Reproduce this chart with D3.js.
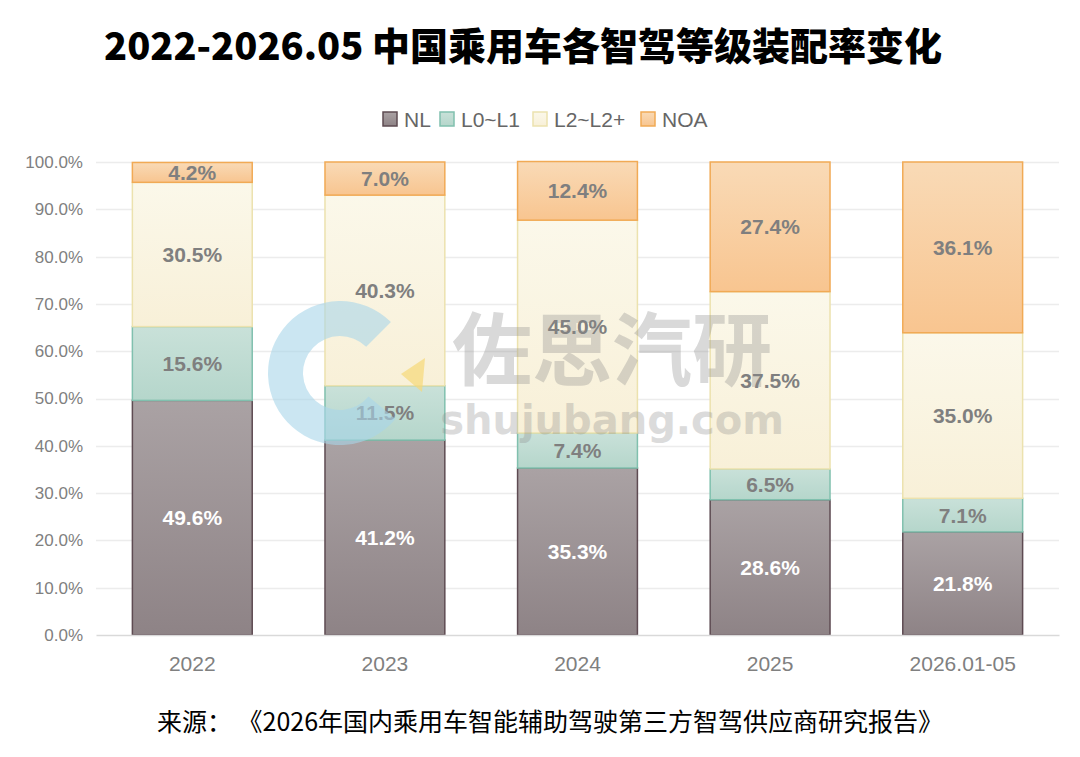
<!DOCTYPE html>
<html>
<head>
<meta charset="utf-8">
<script src="https://cdn.jsdelivr.net/npm/d3@7"></script>
<style>
  body { margin: 0; background: #fff; }
  svg { display: block; }
</style>
</head>
<body>
<script>
// data
let categories = ["2022", "2023", "2024", "2025", "2026.01-05"];
let seriesNames = ["NL", "L0~L1", "L2~L2+", "NOA"];
let nlValues  = [49.6, 41.2, 35.3, 28.6, 21.8];
let l0Values  = [15.6, 11.5, 7.4, 6.5, 7.1];
let l2Values  = [30.5, 40.3, 45.0, 37.5, 35.0];
let noaValues = [4.2, 7.0, 12.4, 27.4, 36.1];
let yTicks = [0, 10, 20, 30, 40, 50, 60, 70, 80, 90, 100];

let W = 1080, H = 757;
let margin = {left: 96, right: 21, top: 162, bottom: 122};

let colors = {
  "NL":     {top: "#aaa2a4", bottom: "#8e8386", stroke: "#5e4b52", text: "#ffffff"},
  "L0~L1":  {top: "#c9e1d9", bottom: "#b5d6cb", stroke: "#80c0ae", text: "#7f7f7f"},
  "L2~L2+": {top: "#fbf8ea", bottom: "#f8f0d8", stroke: "#ece2ae", text: "#7f7f7f"},
  "NOA":    {top: "#f9dab6", bottom: "#f8c590", stroke: "#f1aa55", text: "#7f7f7f"}
};

// table for d3.stack
let table = categories.map((c, i) => ({
  cat: c,
  "NL": nlValues[i],
  "L0~L1": l0Values[i],
  "L2~L2+": l2Values[i],
  "NOA": noaValues[i]
}));

let stacked = d3.stack().keys(seriesNames)(table);

let svg = d3.select("body").append("svg")
  .attr("width", W)
  .attr("height", H);

let defs = svg.append("defs");
seriesNames.forEach((s, i) => {
  let g = defs.append("linearGradient")
    .attr("id", "grad" + i)
    .attr("x1", 0).attr("y1", 0).attr("x2", 0).attr("y2", 1);
  g.append("stop").attr("offset", "0%").attr("stop-color", colors[s].top);
  g.append("stop").attr("offset", "100%").attr("stop-color", colors[s].bottom);
});

let x = d3.scaleBand()
  .domain(categories)
  .range([margin.left, W - margin.right])
  .paddingInner(0.37)
  .paddingOuter(0.185);

let y = d3.scaleLinear()
  .domain([0, 100])
  .range([H - margin.bottom, margin.top]);

// title
svg.append("text")
  .attr("x", 523)
  .attr("y", 60)
  .attr("text-anchor", "middle")
  .style("font-family", "'Noto Sans CJK SC', sans-serif")
  .style("font-weight", 900)
  .style("font-size", "38px")
  .attr("fill", "#000")
  .text("2022-2026.05 中国乘用车各智驾等级装配率变化");

// gridlines
svg.append("g")
  .selectAll("line")
  .data(yTicks.filter(t => t > 0))
  .enter()
  .append("line")
    .attr("x1", margin.left)
    .attr("x2", W - margin.right)
    .attr("y1", d => Math.round(y(d)) + 0.5)
    .attr("y2", d => Math.round(y(d)) + 0.5)
    .attr("stroke", "#ececec")
    .attr("stroke-width", 1.5);

// y axis labels
let yAxis = d3.axisLeft(y)
  .tickValues(yTicks)
  .tickSize(0)
  .tickPadding(13)
  .tickFormat(d => d.toFixed(1) + "%");

let yg = svg.append("g")
  .attr("transform", "translate(" + margin.left + ",0)")
  .call(yAxis);
yg.select(".domain").remove();
yg.selectAll("text")
  .style("font-family", "Arial, 'Liberation Sans', sans-serif")
  .style("font-size", "17px")
  .attr("fill", "#808080");

// watermark logo behind the bars
let wm = svg.append("g").attr("class", "watermark");
let arc = d3.arc()
  .innerRadius(37)
  .outerRadius(72)
  .startAngle(Math.PI * 0.72)
  .endAngle(Math.PI * 2.25);
wm.append("path")
  .attr("d", arc())
  .attr("transform", "translate(340,373)")
  .attr("fill", "#a9d6ea")
  .attr("opacity", 0.6);
wm.append("path")
  .attr("d", "M401,374 L425,358 L422,392 Z")
  .attr("fill", "#f7d978")
  .attr("opacity", 0.7);

// bars
let layers = svg.append("g")
  .selectAll(".layer")
  .data(stacked)
  .enter()
  .append("g")
    .attr("class", "layer");

layers.selectAll("rect")
  .data(d => d.map(v => ({key: d.key, idx: d.index, v: v})))
  .enter()
  .append("rect")
    .attr("x", d => x(d.v.data.cat) + 0.75)
    .attr("width", x.bandwidth() - 1.5)
    .attr("y", d => y(d.v[1]))
    .attr("height", d => y(d.v[0]) - y(d.v[1]))
    .attr("fill", d => "url(#grad" + d.idx + ")")
    .attr("stroke", d => colors[d.key].stroke)
    .attr("stroke-width", 1.5);

// watermark text on top (semi-transparent)
wm.raise();
wm.append("text")
  .attr("x", 612)
  .attr("y", 379)
  .attr("text-anchor", "middle")
  .style("font-family", "'Noto Sans CJK SC', sans-serif")
  .style("font-weight", 700)
  .style("font-size", "80px")
  .attr("fill", "#8a8a8a")
  .attr("opacity", 0.32)
  .text("佐思汽研");
wm.append("text")
  .attr("x", 612)
  .attr("y", 434)
  .attr("text-anchor", "middle")
  .style("font-family", "'DejaVu Sans', sans-serif")
  .style("font-weight", 700)
  .style("font-size", "40px")
  .attr("fill", "#8a8a8a")
  .attr("opacity", 0.3)
  .text("shujubang.com");

// value labels
layers.selectAll(".lbl")
  .data(d => d.map(v => ({key: d.key, v: v})))
  .enter()
  .append("text")
    .attr("class", "lbl")
    .attr("x", d => x(d.v.data.cat) + x.bandwidth() / 2)
    .attr("y", d => (y(d.v[0]) + y(d.v[1])) / 2)
    .attr("dy", "0.36em")
    .attr("text-anchor", "middle")
    .style("font-family", "Arial, 'Liberation Sans', sans-serif")
    .style("font-weight", 700)
    .style("font-size", "21px")
    .attr("fill", d => colors[d.key].text)
    .text(d => d.v.data[d.key].toFixed(1) + "%");

// x axis
let xAxis = d3.axisBottom(x).tickSize(0).tickPadding(21);
let xg = svg.append("g")
  .attr("transform", "translate(0," + (H - margin.bottom) + ")")
  .call(xAxis);
xg.select(".domain")
  .attr("stroke", "#d9d9d9")
  .attr("stroke-width", 1.5);
xg.selectAll("text")
  .style("font-family", "Arial, 'Liberation Sans', sans-serif")
  .style("font-size", "21px")
  .attr("fill", "#808080");

// legend
let legendX = [383, 440, 533, 641];
let legend = svg.append("g")
  .selectAll(".leg")
  .data(seriesNames)
  .enter()
  .append("g")
    .attr("class", "leg")
    .attr("transform", (d, i) => "translate(" + legendX[i] + ",112)");
legend.append("rect")
  .attr("width", 14)
  .attr("height", 14)
  .attr("fill", (d, i) => "url(#grad" + i + ")")
  .attr("stroke", d => colors[d].stroke)
  .attr("stroke-width", 1.5);
legend.append("text")
  .attr("x", 21)
  .attr("y", 7)
  .attr("dy", "0.36em")
  .style("font-family", "Arial, 'Liberation Sans', sans-serif")
  .style("font-size", "21px")
  .attr("fill", "#666")
  .text(d => d);

// source
svg.append("text")
  .attr("x", 157)
  .attr("y", 731)
  .style("font-family", "'Noto Sans CJK SC', sans-serif")
  .style("font-size", "25px")
  .attr("fill", "#000")
  .text("来源： 《2026年国内乘用车智能辅助驾驶第三方智驾供应商研究报告》");
</script>
</body>
</html>
